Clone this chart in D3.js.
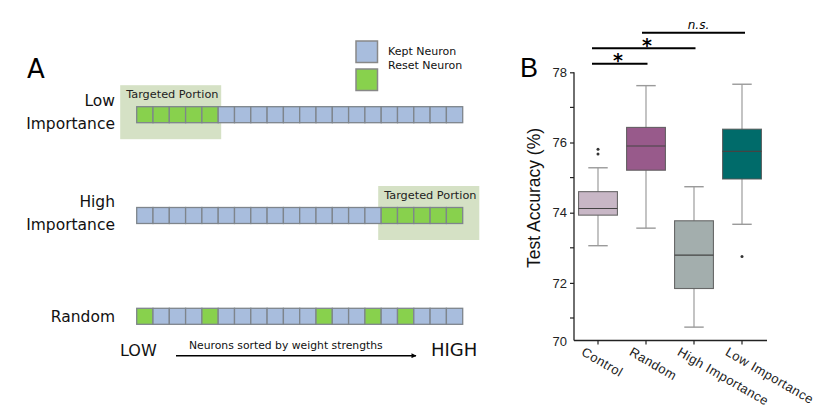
<!DOCTYPE html>
<html>
<head>
<meta charset="utf-8">
<script src="https://cdn.jsdelivr.net/npm/d3@7"></script>
<style>
  html, body { margin: 0; padding: 0; background: #fff; }
  svg { display: block; }
</style>
</head>
<body>
<svg id="chart" width="823" height="415"></svg>
<script>
// ---------- Panel A data ----------
const rowNames = ["Low Importance", "High Importance", "Random"];
const rowLabelLines = [["Low", "Importance"], ["High", "Importance"], ["Random"]];
const neuronCount = 20;
const resetNeurons = [[0, 1, 2, 3, 4], [15, 16, 17, 18, 19], [0, 4, 11, 14, 16]];
const targetedPortions = [[0, 4], [15, 19], null];
const legendLabels = ["Kept Neuron", "Reset Neuron"];

// ---------- Panel B data ----------
const categories = ["Control", "Random", "High Importance", "Low Importance"];
const q1Values = [73.93, 75.21, 71.84, 74.96];
const medianValues = [74.12, 75.90, 72.79, 75.75];
const q3Values = [74.60, 76.43, 73.77, 76.38];
const whiskerLowValues = [73.06, 73.56, 70.74, 73.67];
const whiskerHighValues = [75.28, 77.62, 74.74, 77.66];
const outlierValues = [[75.67, 75.81], [], [], [72.75]];
const yTickValues = [72, 74, 76, 78];
const yMinorTickValues = [71, 73, 75, 77];
const yBottomLabel = "70";
const comparisons = [
  ["Control", "Random", "*"],
  ["Control", "High Importance", "*"],
  ["Random", "Low Importance", "n.s."]
];

// ---------- styles ----------
const boxColors = ["#c8b7c6", "#985a8b", "#a3aead", "#006b6a"];
const keptColor = "#a8bddd";
const resetColor = "#88d14d";
const cellStroke = "#7e858c";
const highlightColor = "#d5e1c5";
const fontA = "'DejaVu Sans', sans-serif";
const fontB = "'Liberation Sans', Arial, sans-serif";

const svg = d3.select("#chart");

// =============== Panel A ===============
const gA = svg.append("g");
const xN = d3.scaleBand().domain(d3.range(neuronCount)).range([136.7, 462.7]);
const yRow = d3.scalePoint().domain(rowNames).range([106.7, 308.3]);
const cellH = 16;

gA.append("text").attr("x", 27).attr("y", 78)
  .style("font-family", fontA).style("font-size", "26px").attr("fill", "#000").text("A");

// targeted portion highlights
rowNames.forEach((r, i) => {
  const tp = targetedPortions[i];
  if (!tp) return;
  const isLeft = tp[0] === 0;
  const x0 = xN(tp[0]) - (isLeft ? 16.5 : 3);
  const x1 = xN(tp[1]) + xN.bandwidth() + (isLeft ? 3 : 16.6);
  const top = yRow(r) - 21.5;
  gA.append("rect").attr("x", x0).attr("y", top).attr("width", x1 - x0)
    .attr("height", 54).attr("fill", highlightColor);
  gA.append("text").attr("x", x0 + 6).attr("y", top + 12.5)
    .style("font-family", fontA).style("font-size", "11.3px").attr("fill", "#222")
    .text("Targeted Portion");
});

// cells
rowNames.forEach((r, i) => {
  gA.append("g").selectAll("rect").data(d3.range(neuronCount)).join("rect")
    .attr("x", d => xN(d)).attr("y", yRow(r))
    .attr("width", xN.bandwidth()).attr("height", cellH)
    .attr("fill", d => resetNeurons[i].includes(d) ? resetColor : keptColor)
    .attr("stroke", cellStroke).attr("stroke-width", 1.3);
  const lines = rowLabelLines[i];
  const t = gA.append("text").attr("text-anchor", "end")
    .style("font-family", fontA).style("font-size", "15.5px").attr("fill", "#111");
  if (lines.length === 2) {
    t.append("tspan").attr("x", 115).attr("y", yRow(r) - 0.5).text(lines[0]);
    t.append("tspan").attr("x", 115).attr("y", yRow(r) + 22.3).text(lines[1]);
  } else {
    t.append("tspan").attr("x", 115).attr("y", yRow(r) + 13.3).text(lines[0]);
  }
});

// legend
const legY = d3.scalePoint().domain(legendLabels).range([41, 69]);
gA.selectAll(".legrect").data(legendLabels).join("rect")
  .attr("x", 356).attr("y", d => legY(d)).attr("width", 21.5).attr("height", 21.5)
  .attr("fill", (d, i) => i === 0 ? keptColor : resetColor)
  .attr("stroke", "#888").attr("stroke-width", 1.5);
gA.selectAll(".legtext").data(legendLabels).join("text")
  .attr("x", 388).attr("y", (d, i) => 55 + i * 14)
  .style("font-family", fontA).style("font-size", "11px").attr("fill", "#111")
  .text(d => d);

// LOW / HIGH arrow
gA.append("text").attr("x", 120).attr("y", 356)
  .style("font-family", fontA).style("font-size", "16px").attr("fill", "#111").text("LOW");
gA.append("text").attr("x", 431).attr("y", 356)
  .style("font-family", fontA).style("font-size", "18px").attr("fill", "#111").text("HIGH");
gA.append("text").attr("x", 189).attr("y", 348.5)
  .style("font-family", fontA).style("font-size", "10.8px").attr("fill", "#111")
  .text("Neurons sorted by weight strengths");
const defs = svg.append("defs");
defs.append("marker").attr("id", "arrow").attr("viewBox", "0 0 10 10")
  .attr("refX", 9).attr("refY", 5).attr("markerWidth", 6).attr("markerHeight", 5)
  .attr("orient", "auto").attr("markerUnits", "userSpaceOnUse")
  .append("path").attr("d", "M0,0 L10,5 L0,10 z").attr("fill", "#000");
gA.append("line").attr("x1", 176).attr("x2", 416).attr("y1", 355.7).attr("y2", 355.7)
  .attr("stroke", "#000").attr("stroke-width", 1.6).attr("marker-end", "url(#arrow)");

// =============== Panel B ===============
const gB = svg.append("g");
const axisTop = 72.3, axisBottom = 340.5;
const pxPerUnit = 35.1;
const yMin = 78 - (axisBottom - axisTop) / pxPerUnit;
const y = d3.scaleLinear().domain([yMin, 78]).range([axisBottom, axisTop]);
const x = d3.scaleBand().domain(categories).range([574, 766]).padding(0);
const cx = c => x(c) + x.bandwidth() / 2;
const boxW = x.bandwidth() * 0.81;

gB.append("text").attr("x", 520).attr("y", 77)
  .style("font-family", fontB).style("font-size", "27px").attr("fill", "#000").text("B");

// y axis
const yAxis = d3.axisLeft(y).tickValues(yTickValues).tickSize(4).tickPadding(3)
  .tickFormat(d3.format("d"));
const yAx = gB.append("g").attr("transform", "translate(574,0)").call(yAxis);
yAx.select(".domain").attr("d", `M0,${axisTop}V${axisBottom}`).attr("stroke", "#222").attr("stroke-width", 1.3);
yAx.selectAll(".tick line").attr("stroke", "#222").attr("stroke-width", 1.2);
yAx.selectAll(".tick text").style("font-family", fontB).style("font-size", "13px").attr("fill", "#222");
gB.append("g").selectAll("line").data(yMinorTickValues).join("line")
  .attr("x1", 570).attr("x2", 574).attr("y1", d => y(d)).attr("y2", d => y(d))
  .attr("stroke", "#222").attr("stroke-width", 1.2);
gB.append("text").attr("x", 567).attr("y", axisBottom + 5).attr("text-anchor", "end")
  .style("font-family", fontB).style("font-size", "13px").attr("fill", "#222").text(yBottomLabel);

// x axis
const xAxis = d3.axisBottom(x).tickSize(4).tickFormat("");
const xAx = gB.append("g").attr("transform", `translate(0,${axisBottom})`).call(xAxis);
xAx.select(".domain").attr("d", "M574,0H767").attr("stroke", "#222").attr("stroke-width", 1.3);
xAx.selectAll(".tick line").attr("stroke", "#222").attr("stroke-width", 1.2);
gB.append("g").selectAll("text").data(categories).join("text")
  .attr("transform", c => `translate(${cx(c) - 13},${axisBottom + 6}) rotate(30)`)
  .attr("text-anchor", "start").attr("dy", "0.71em")
  .style("font-family", fontB).style("font-size", "13px").style("letter-spacing", "0.5px")
  .attr("fill", "#222").text(c => c);

// y label
gB.append("text").attr("transform", `translate(539.5,198) rotate(-90)`)
  .attr("text-anchor", "middle")
  .style("font-family", fontB).style("font-size", "17.5px").attr("fill", "#111")
  .text("Test Accuracy (%)");

// boxes
categories.forEach((c, i) => {
  const g = gB.append("g");
  const xc = cx(c);
  g.append("line").attr("x1", xc).attr("x2", xc)
    .attr("y1", y(whiskerHighValues[i])).attr("y2", y(q3Values[i]))
    .attr("stroke", "#b5b5b5").attr("stroke-width", 1.6);
  g.append("line").attr("x1", xc).attr("x2", xc)
    .attr("y1", y(q1Values[i])).attr("y2", y(whiskerLowValues[i]))
    .attr("stroke", "#b5b5b5").attr("stroke-width", 1.6);
  [whiskerHighValues[i], whiskerLowValues[i]].forEach(v => {
    g.append("line").attr("x1", xc - boxW / 4).attr("x2", xc + boxW / 4)
      .attr("y1", y(v)).attr("y2", y(v))
      .attr("stroke", "#9a9a9a").attr("stroke-width", 1.4);
  });
  g.append("rect").attr("x", xc - boxW / 2).attr("y", y(q3Values[i]))
    .attr("width", boxW).attr("height", y(q1Values[i]) - y(q3Values[i]))
    .attr("fill", boxColors[i]).attr("stroke", "#555").attr("stroke-width", 1.1)
    .attr("stroke-opacity", 0.85);
  g.append("line").attr("x1", xc - boxW / 2).attr("x2", xc + boxW / 2)
    .attr("y1", y(medianValues[i])).attr("y2", y(medianValues[i]))
    .attr("stroke", "#444").attr("stroke-width", 1.2);
  g.selectAll("circle").data(outlierValues[i]).join("circle")
    .attr("cx", xc).attr("cy", d => y(d)).attr("r", 1.5).attr("fill", "#333");
});

// significance bars
const barLevels = d3.scalePoint().domain(d3.range(comparisons.length)).range([63.7, 32.7]);
comparisons.forEach((cmp, i) => {
  const x0 = cx(cmp[0]) - (i === 2 ? 4 : 6);
  const x1 = cx(cmp[1]) + (i === 2 ? 3 : 1.5);
  const yy = barLevels(i);
  gB.append("line").attr("x1", x0).attr("x2", x1).attr("y1", yy).attr("y2", yy)
    .attr("stroke", "#000").attr("stroke-width", 2);
  const isStar = cmp[2] === "*";
  gB.append("text").attr("x", isStar ? (i === 0 ? 618 : 647) : (x0 + x1) / 2 + 5)
    .attr("y", isStar ? yy + 3.5 : yy - 3.5)
    .attr("text-anchor", "middle")
    .style("font-family", fontA)
    .style("font-size", isStar ? "19px" : "12px")
    .style("font-style", isStar ? "normal" : "italic")
    .style("font-weight", isStar ? "bold" : "normal")
    .attr("fill", "#000").text(cmp[2]);
});
</script>
</body>
</html>
